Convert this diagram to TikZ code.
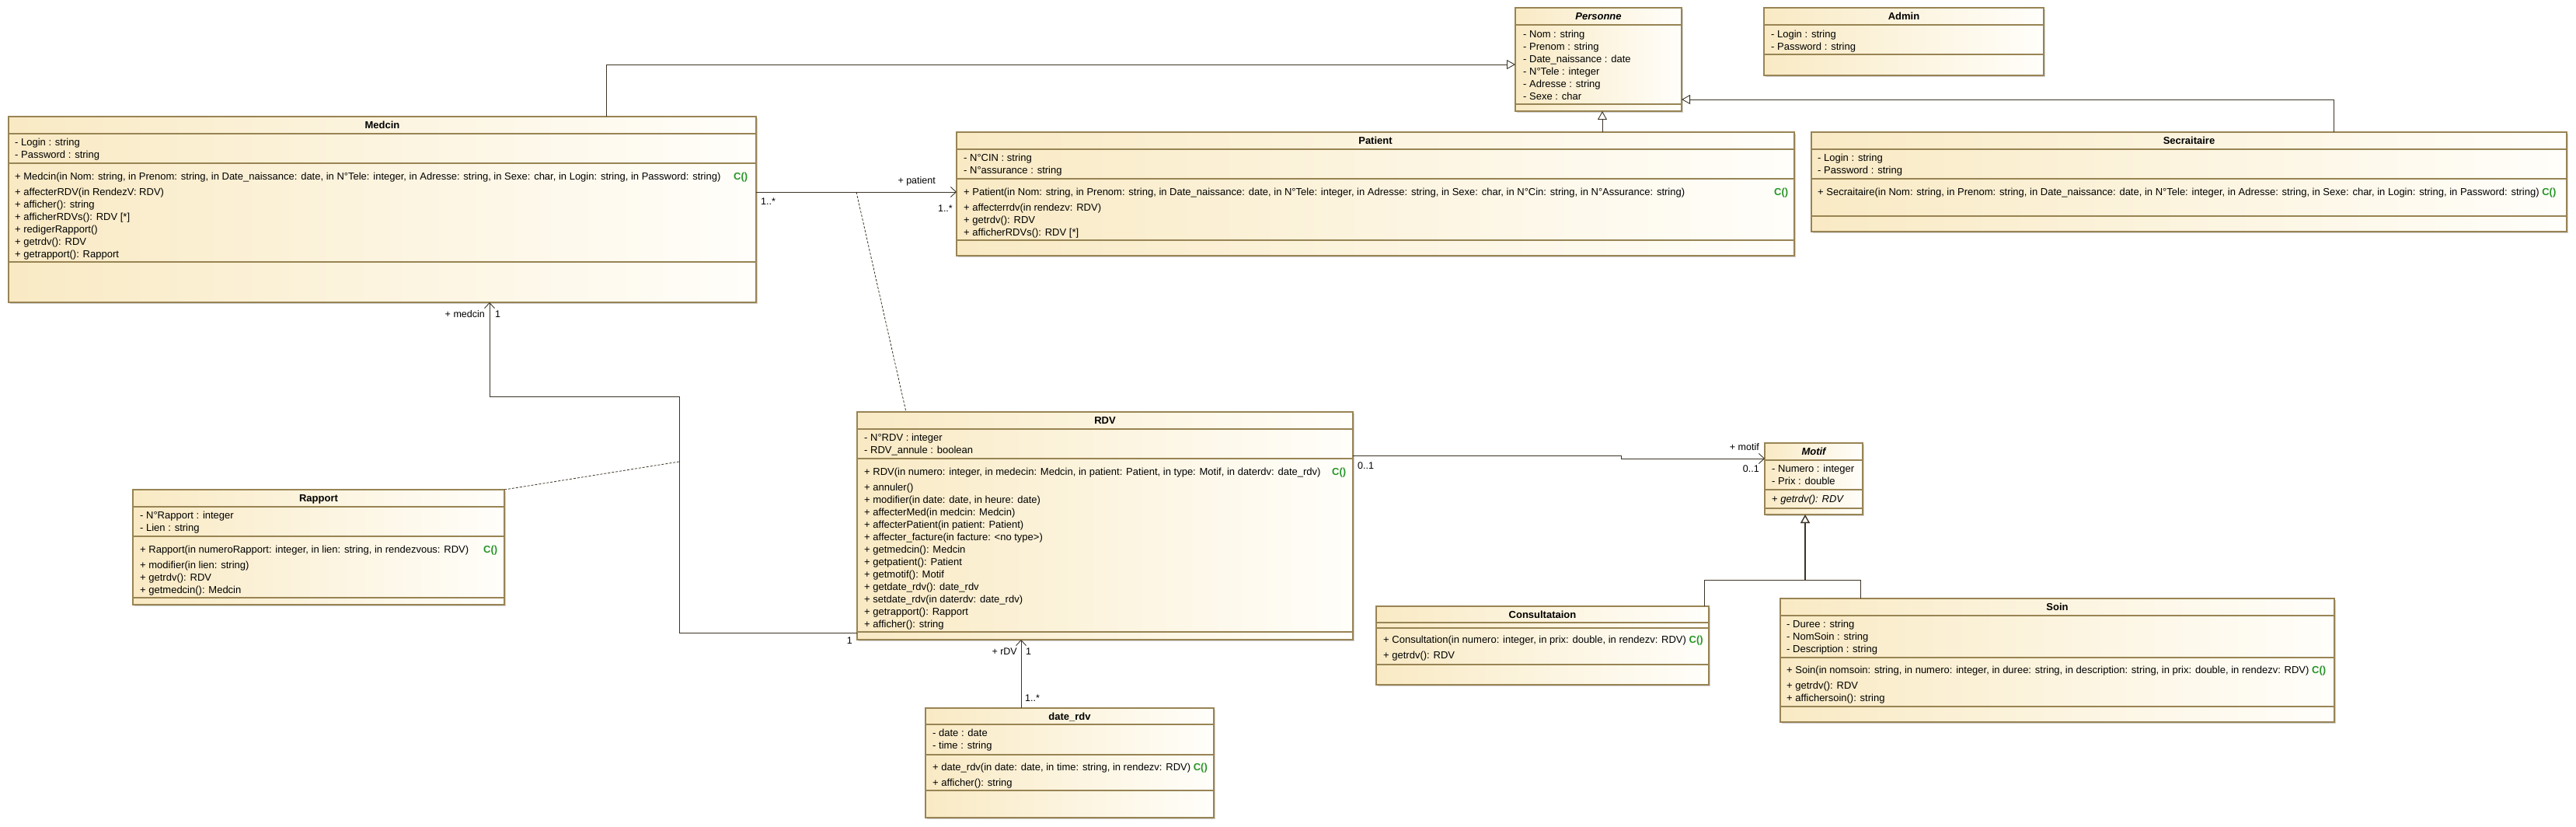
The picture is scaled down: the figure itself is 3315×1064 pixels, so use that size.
\documentclass[tikz,border=0pt]{standalone}
\usepackage{fontspec}
\setmainfont{Liberation Sans}
\usetikzlibrary{arrows.meta,shadows,calc}
\definecolor{boxborder}{RGB}{152,132,84}
\definecolor{boxleft}{RGB}{249,234,196}
\definecolor{boxright}{RGB}{255,254,250}
\definecolor{lineclr}{RGB}{60,52,38}
\definecolor{cgreen}{RGB}{40,150,40}
\newcommand\fs{\fontsize{13}{15}\selectfont}
\newcommand\fl{\fontsize{12.5}{15}\selectfont}
\tikzset{
  classbox/.style={draw=boxborder, line width=1.2pt, left color=boxleft, right color=boxright,
    inner sep=0pt, outer sep=0pt, anchor=north west,
    drop shadow={shadow xshift=2pt, shadow yshift=-2pt, opacity=0.35, fill=gray}},
  sepline/.style={draw=boxborder, line width=1.1pt},
  txt/.style={anchor=base west, inner sep=0pt, font=\fs\upshape, text=black},
  ctitle/.style={anchor=base, inner sep=0pt, font=\fs\bfseries\upshape},
  ctor/.style={anchor=base west, inner sep=0pt, font=\fs\bfseries\upshape, text=cgreen},
  lbl/.style={inner sep=0pt, font=\fl\upshape},
  gen/.style={draw=lineclr, line width=0.9pt, -{Triangle[open, length=11pt, width=12pt, fill=white]}},
  assoc/.style={draw=lineclr, line width=0.9pt, -{Straight Barb[length=7pt, width=13pt]}},
  plain/.style={draw=lineclr, line width=0.9pt},
  dashline/.style={draw=lineclr, line width=0.8pt, dash pattern=on 3pt off 2pt},
}
% #1 name, #2 x1, #3 y1, #4 x2, #5 y2, #6 title, #7 separator ys
\newcommand\umlbox[7]{%
  \pgfmathsetmacro\bw{#4-#2}\pgfmathsetmacro\bh{#5-#3}%
  \node[classbox, minimum width=\bw pt, minimum height=\bh pt] (#1) at (#2,#3) {};
  \foreach \s in {#7}{\draw[sepline] (#1.west |- 0,\s) -- (#1.east |- 0,\s);}
  \node[ctitle] (#1-title) at ({(#2+#4)/2},{#3+15.5}) {#6};
}
% #1 prefix, #2 x, #3 first baseline, #4 list
\newcommand\umllines[4]{%
  \foreach \t [count=\i] in {#4}{\node[txt] (#1-\i) at (#2,{#3+(\i-1)*16}) {\t};}
}
\begin{document}
\begin{tikzpicture}[x=1pt, y=-1pt]
\useasboundingbox (0,0) rectangle (3315,1064);
\fill[white] (0,0) rectangle (3315,1064);

% ---------- Personne
\umlbox{personne}{1950}{10}{2164}{143}{\itshape Personne}{32,134}
\umllines{personne-a}{1960}{48.5}{{- Nom : string},{- Prenom : string},{- Date\_naissance : date},{- N°Tele : integer},{- Adresse : string},{- Sexe : char}}

% ---------- Admin
\umlbox{admin}{2270}{10}{2630}{97}{Admin}{32,70}
\umllines{admin-a}{2279}{48.5}{{- Login : string},{- Password : string}}

% ---------- Medcin
\umlbox{medcin}{11}{150}{973}{389}{Medcin}{172,210,337}
\umllines{medcin-a}{19}{187.5}{{- Login : string},{- Password : string}}
\node[txt] (medcin-k) at (19,231.5) {+ Medcin(in Nom: string, in Prenom: string, in Date\_naissance: date, in N°Tele: integer, in Adresse: string, in Sexe: char, in Login: string, in Password: string)};
\node[ctor] (medcin-c) at (944,231.5) {C()};
\umllines{medcin-o}{19}{251.5}{{+ affecterRDV(in RendezV: RDV)},{+ afficher(): string},{+ afficherRDVs(): RDV [*]},{+ redigerRapport()},{+ getrdv(): RDV},{+ getrapport(): Rapport}}

% ---------- Patient
\umlbox{patient}{1231}{170}{2309}{329}{Patient}{192,230,309}
\umllines{patient-a}{1240}{207.5}{{- N°CIN : string},{- N°assurance : string}}
\node[txt] (patient-k) at (1240,251.5) {+ Patient(in Nom: string, in Prenom: string, in Date\_naissance: date, in N°Tele: integer, in Adresse: string, in Sexe: char, in N°Cin: string, in N°Assurance: string)};
\node[ctor] (patient-c) at (2283,251.5) {C()};
\umllines{patient-o}{1240}{271.5}{{+ affecterrdv(in rendezv: RDV)},{+ getrdv(): RDV},{+ afficherRDVs(): RDV [*]}}

% ---------- Secraitaire
\umlbox{secr}{2331}{170}{3303}{298}{Secraitaire}{192,230,278}
\umllines{secr-a}{2339}{207.5}{{- Login : string},{- Password : string}}
\node[txt] (secr-k) at (2339,251.5) {+ Secraitaire(in Nom: string, in Prenom: string, in Date\_naissance: date, in N°Tele: integer, in Adresse: string, in Sexe: char, in Login: string, in Password: string) \textcolor{cgreen}{\bfseries C()}};

% ---------- Rapport
\umlbox{rapport}{171}{630}{649}{778}{Rapport}{652,690,769}
\umllines{rapport-a}{180}{667.5}{{- N°Rapport : integer},{- Lien : string}}
\node[txt] (rapport-k) at (180,711.5) {+ Rapport(in numeroRapport: integer, in lien: string, in rendezvous: RDV)};
\node[ctor] (rapport-c) at (622,711.5) {C()};
\umllines{rapport-o}{180}{731.5}{{+ modifier(in lien: string)},{+ getrdv(): RDV},{+ getmedcin(): Medcin}}

% ---------- RDV
\umlbox{rdv}{1103}{530}{1741}{823}{RDV}{552,590,813}
\umllines{rdv-a}{1112}{567.5}{{- N°RDV : integer},{- RDV\_annule : boolean}}
\node[txt] (rdv-k) at (1112,611.5) {+ RDV(in numero: integer, in medecin: Medcin, in patient: Patient, in type: Motif, in daterdv: date\_rdv)};
\node[ctor] (rdv-c) at (1714,611.5) {C()};
\umllines{rdv-o}{1112}{631.5}{{+ annuler()},{+ modifier(in date: date, in heure: date)},{+ affecterMed(in medcin: Medcin)},{+ affecterPatient(in patient: Patient)},{+ affecter\_facture(in facture: <no type>)},{+ getmedcin(): Medcin},{+ getpatient(): Patient},{+ getmotif(): Motif},{+ getdate\_rdv(): date\_rdv},{+ setdate\_rdv(in daterdv: date\_rdv)},{+ getrapport(): Rapport},{+ afficher(): string}}

% ---------- date_rdv
\umlbox{daterdv}{1191}{911}{1562}{1052}{date\_rdv}{932,971,1017}
\umllines{daterdv-a}{1200}{947.5}{{- date : date},{- time : string}}
\node[txt] (daterdv-k) at (1200,991.5) {+ date\_rdv(in date: date, in time: string, in rendezv: RDV) \textcolor{cgreen}{\bfseries C()}};
\node[txt] (daterdv-o) at (1200,1011.5) {+ afficher(): string};

% ---------- Motif
\umlbox{motif}{2271}{570}{2397}{662}{\itshape Motif}{592,630,654}
\umllines{motif-a}{2280}{607.5}{{- Numero : integer},{- Prix : double}}
\node[txt] (motif-o) at (2280,646.5) {+ \itshape getrdv(): RDV};

% ---------- Consultataion
\umlbox{consult}{1771}{780}{2199}{881}{Consultataion}{801,808,855}
\node[txt] (consult-k) at (1780,827.5) {+ Consultation(in numero: integer, in prix: double, in rendezv: RDV) \textcolor{cgreen}{\bfseries C()}};
\node[txt] (consult-o) at (1780,847.5) {+ getrdv(): RDV};

% ---------- Soin
\umlbox{soin}{2291}{770}{3004}{929}{Soin}{792,846,909}
\umllines{soin-a}{2299}{807.5}{{- Duree : string},{- NomSoin : string},{- Description : string}}
\node[txt] (soin-k) at (2299,866.5) {+ Soin(in nomsoin: string, in numero: integer, in duree: string, in description: string, in prix: double, in rendezv: RDV) \textcolor{cgreen}{\bfseries C()}};
\umllines{soin-o}{2299}{886.5}{{+ getrdv(): RDV},{+ affichersoin(): string}}

% ---------- connectors
\draw[gen] (medcin.north -| 780,0) |- (personne.west |- 0,83);
\draw[gen] (patient.north -| 2062,0) -- (personne.south -| 2062,0);
\draw[gen] (secr.north -| 3003,0) |- (personne.east |- 0,128);

\draw[assoc] (medcin.east |- 0,247) -- (patient.west |- 0,247);
\coordinate (acpt) at (1102,247);
\draw[dashline] (acpt) -- (rdv.north -| 1166,0);

\coordinate (mbend1) at (874,510);
\coordinate (rjoin) at (874,594);
\draw[assoc] (rdv.west |- 0,814) -| (mbend1) -| (medcin.south -| 630,0);
\draw[dashline] (rapport.north east) -- (rjoin);

\coordinate (mstep1) at (2086,586);
\coordinate (mstep2) at (2086,590);
\draw[assoc] (rdv.east |- 0,586) -- (mstep1) -- (mstep2) -- (motif.west |- 0,590);

\draw[assoc] (daterdv.north -| 1314,0) -- (rdv.south -| 1314,0);

\coordinate (junc) at (2323,746);
\draw[plain] (consult.north -| 2193,0) |- (junc);
\draw[plain] (soin.north -| 2394,0) |- (junc);
\draw[gen, line width=1.4pt] (junc) -- (motif.south -| 2323,0);

% ---------- labels
\node[lbl, anchor=base east] (l-patient) at (1204,236.5) {+ patient};
\node[lbl, anchor=base west] (l-m1) at (979,263.5) {1..*};
\node[lbl, anchor=base east] (l-p1) at (1226,272.5) {1..*};
\node[lbl, anchor=base east] (l-medcin) at (624,408.5) {+ medcin};
\node[lbl, anchor=base west] (l-med1) at (637,408.5) {1};
\node[lbl, anchor=base east] (l-rdv1) at (1097,828.5) {1};
\node[lbl, anchor=base east] (l-rdvn) at (1309,842.5) {+ rDV};
\node[lbl, anchor=base west] (l-rdvo) at (1320,842.5) {1};
\node[lbl, anchor=base west] (l-dn) at (1319,902.5) {1..*};
\node[lbl, anchor=base west] (l-r01) at (1747,603.5) {0..1};
\node[lbl, anchor=base east] (l-motif) at (2264,579.5) {+ motif};
\node[lbl, anchor=base east] (l-m01) at (2264,607.5) {0..1};
\end{tikzpicture}
\end{document}
